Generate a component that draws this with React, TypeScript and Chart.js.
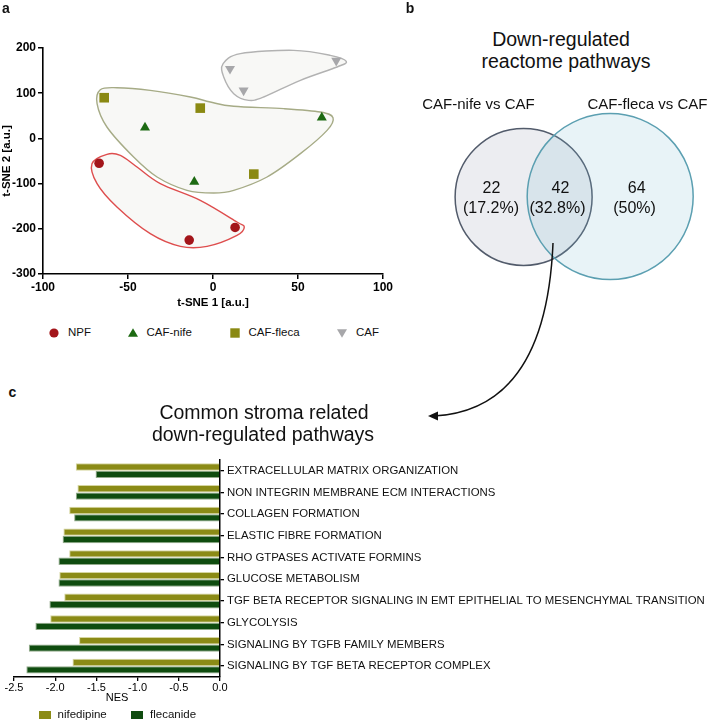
import React, { useEffect, useRef } from "react";
import { Chart, registerables } from "chart.js";
Chart.register(...registerables);

const FONT = '"Liberation Sans", Arial, Helvetica, sans-serif';
Chart.defaults.font.family = FONT;

// ---------- Panel a: t-SNE ----------
const npfX = [-67, -14, 13];
const npfY = [-55, -225, -197];
const nifeX = [-40, -11, 64];
const nifeY = [24, -96, 46];
const flecaX = [-64, -7.5, 24];
const flecaY = [90, 67, -79];
const cafX = [10, 18, 72.5];
const cafY = [154, 106, 172];

const hullCafX = [5.9, 16.1, 47.5, 69, 78.4, 73, 51.4, 29.8, 21, 12.2, 6.3];
const hullCafY = [165, 187.5, 194.8, 183.8, 170.5, 158, 128.5, 91.6, 84.2, 99, 135.8];
const hullTreatX = [-66.3, -56.5, -36.9, -13.3, -1.6, 12.2, 41.6, 63.1, 70.6, 67.1, 51.4, 31.8, 12.2, 0.4, -15.3, -32.9, -46.7, -62.4, -68.2];
const hullTreatY = [107.8, 112.2, 106.3, 91.6, 80.5, 71, 65.8, 58.4, 45.9, 17.8, -33.8, -85.4, -114.9, -120.8, -114.9, -85.4, -41.2, 25.2, 76.8];
const hullNpfX = [-62.4, -71.2, -68.2, -56.5, -36.9, -19.2, -3.5, 14.1, 18.4, 14.1, -7.5, -31, -44.7, -54.5];
const hullNpfY = [-35.2, -55.9, -100.1, -151.8, -210.8, -238.8, -238.8, -214.5, -196, -185, -137, -100.1, -63.3, -37.5];

const xTicksA = { min: -100, max: 100, step: 50 };
const yTicksA = { min: -300, max: 200, step: 100 };

// ---------- Panel b: Venn ----------
const vennSets = ["CAF-nife vs CAF", "CAF-fleca vs CAF"];
const vennX = [31.2, 63.5];
const vennY = [53.2, 53.4];
const vennR = [68.5, 83];
const vennCounts = ["22", "42", "64"];
const vennPercents = ["(17.2%)", "(32.8%)", "(50%)"];

// ---------- Panel c: NES bars ----------
const pathways = [
  "EXTRACELLULAR MATRIX ORGANIZATION",
  "NON INTEGRIN MEMBRANE ECM INTERACTIONS",
  "COLLAGEN FORMATION",
  "ELASTIC FIBRE FORMATION",
  "RHO GTPASES ACTIVATE FORMINS",
  "GLUCOSE METABOLISM",
  "TGF BETA RECEPTOR SIGNALING IN EMT EPITHELIAL TO MESENCHYMAL TRANSITION",
  "GLYCOLYSIS",
  "SIGNALING BY TGFB FAMILY MEMBERS",
  "SIGNALING BY TGF BETA RECEPTOR COMPLEX",
];
const nesNifedipine = [-1.75, -1.73, -1.83, -1.9, -1.83, -1.95, -1.89, -2.06, -1.71, -1.79];
const nesFlecanide = [-1.51, -1.75, -1.77, -1.91, -1.96, -1.96, -2.07, -2.24, -2.32, -2.35];
const xTicksC = { min: -2.5, max: 0, step: 0.5 };

const C_NPF = "#a3151a";
const C_NIFE = "#1d6a12";
const C_FLECA = "#8a8912";
const C_CAF = "#a7a7aa";
const C_BAR_NIFE = "#8b8b16";
const C_BAR_FLECA = "#0f4c0f";

const hulls = [
  { xs: hullTreatX, ys: hullTreatY, stroke: "#a6ab86" },
  { xs: hullNpfX, ys: hullNpfY, stroke: "#de4d4d" },
  { xs: hullCafX, ys: hullCafY, stroke: "#b2b2b2" },
];

const hullPlugin = {
  id: "hulls",
  beforeDatasetsDraw(chart: any) {
    const { ctx } = chart;
    const xs = chart.scales.x;
    const ys = chart.scales.y;
    hulls.forEach((h) => {
      const pts = h.xs.map((v, i) => [xs.getPixelForValue(v), ys.getPixelForValue(h.ys[i])]);
      const n = pts.length;
      ctx.save();
      ctx.beginPath();
      ctx.moveTo(pts[0][0], pts[0][1]);
      const t = 1 / 6;
      for (let i = 0; i < n; i++) {
        const p0 = pts[(i - 1 + n) % n];
        const p1 = pts[i];
        const p2 = pts[(i + 1) % n];
        const p3 = pts[(i + 2) % n];
        ctx.bezierCurveTo(
          p1[0] + (p2[0] - p0[0]) * t,
          p1[1] + (p2[1] - p0[1]) * t,
          p2[0] - (p3[0] - p1[0]) * t,
          p2[1] - (p3[1] - p1[1]) * t,
          p2[0],
          p2[1]
        );
      }
      ctx.closePath();
      ctx.fillStyle = "#f8f8f6";
      ctx.fill();
      ctx.strokeStyle = h.stroke;
      ctx.lineWidth = 1.4;
      ctx.stroke();
      ctx.restore();
    });
  },
};

function T(props: { x: number; y: number; text: string; size: number; weight?: string; anchor?: "start" | "middle" }) {
  const { x, y, text, size, weight, anchor } = props;
  return (
    <div
      style={{
        position: "absolute",
        left: x,
        top: y,
        transform: anchor === "start" ? "translate(0,-50%)" : "translate(-50%,-50%)",
        whiteSpace: "nowrap",
        fontSize: size,
        fontWeight: weight || "normal",
        lineHeight: 1,
        fontFamily: FONT,
        color: "#111",
      }}
    >
      {text}
    </div>
  );
}

export default function App() {
  const aRef = useRef<HTMLCanvasElement>(null);
  const bRef = useRef<HTMLCanvasElement>(null);
  const cRef = useRef<HTMLCanvasElement>(null);

  useEffect(() => {
    const pts = (xs: number[], ys: number[]) => xs.map((x, i) => ({ x, y: ys[i] }));
    const axisCommon = {
      grid: { drawOnChartArea: false, drawTicks: true, tickLength: 5, color: "#000", lineWidth: 1.5 },
      border: { display: true, color: "#000", width: 1.6 },
    };
    const chartA = new Chart(aRef.current!, {
      type: "scatter",
      data: {
        datasets: [
          { label: "NPF", data: pts(npfX, npfY), pointStyle: "circle", pointRadius: 4.8, backgroundColor: C_NPF, borderColor: C_NPF, borderWidth: 0 },
          { label: "CAF-nife", data: pts(nifeX, nifeY), pointStyle: "triangle", pointRadius: 5.8, backgroundColor: C_NIFE, borderColor: C_NIFE, borderWidth: 0 },
          { label: "CAF-fleca", data: pts(flecaX, flecaY), pointStyle: "rect", pointRadius: 6.8, backgroundColor: C_FLECA, borderColor: C_FLECA, borderWidth: 0 },
          { label: "CAF", data: pts(cafX, cafY), pointStyle: "triangle", pointRotation: 180, pointRadius: 5.8, backgroundColor: C_CAF, borderColor: C_CAF, borderWidth: 0 },
        ] as any,
      },
      options: {
        responsive: false,
        animation: false,
        events: [],
        layout: { autoPadding: false, padding: { left: 0, top: 48, right: 12, bottom: 0 } },
        plugins: { legend: { display: false }, tooltip: { enabled: false } },
        scales: {
          x: {
            type: "linear",
            min: xTicksA.min,
            max: xTicksA.max,
            ticks: { stepSize: xTicksA.step, font: { size: 12, weight: "bold" }, color: "#000", padding: 1 },
            title: { display: true, text: "t-SNE 1 [a.u.]", font: { size: 11.5, weight: "bold" }, color: "#000", padding: { top: 0, bottom: 10 } },
            afterFit: (s: any) => { s.height = 46; },
            ...axisCommon,
          },
          y: {
            type: "linear",
            min: yTicksA.min,
            max: yTicksA.max,
            ticks: { stepSize: yTicksA.step, font: { size: 12, weight: "bold" }, color: "#000", padding: 2 },
            title: { display: true, text: "t-SNE 2 [a.u.]", font: { size: 11.5, weight: "bold" }, color: "#000", padding: { top: 0, bottom: 0 } },
            afterFit: (s: any) => { s.width = 43; },
            ...axisCommon,
          },
        },
      } as any,
      plugins: [hullPlugin],
    });

    const vennFill = ["rgba(150,155,178,0.18)", "rgba(120,186,206,0.17)"];
    const vennStroke = ["#525b6b", "#5b9fb1"];
    const chartB = new Chart(bRef.current!, {
      type: "bubble",
      data: {
        datasets: vennSets.map((s, i) => ({
          label: s,
          data: [{ x: vennX[i], y: vennY[i], r: vennR[i] }],
          backgroundColor: vennFill[i],
          borderColor: vennStroke[i],
          borderWidth: 1.5,
          order: 2 - i,
          clip: false,
        })) as any,
      },
      options: {
        responsive: false,
        animation: false,
        events: [],
        layout: { autoPadding: false, padding: 0 },
        plugins: { legend: { display: false }, tooltip: { enabled: false } },
        scales: {
          x: { type: "linear", min: 0, max: 100, display: false },
          y: { type: "linear", min: 0, max: 100, display: false },
        },
      } as any,
    });

    const chartC = new Chart(cRef.current!, {
      type: "bar",
      data: {
        labels: pathways,
        datasets: [
          { label: "nifedipine", data: nesNifedipine, backgroundColor: C_BAR_NIFE, borderColor: "rgba(210,210,150,0.9)", borderWidth: 1 },
          { label: "flecanide", data: nesFlecanide, backgroundColor: C_BAR_FLECA, borderColor: "rgba(120,150,110,0.8)", borderWidth: 1 },
        ],
      },
      options: {
        indexAxis: "y",
        responsive: false,
        animation: false,
        events: [],
        layout: { padding: { top: 9, left: 14, right: 0, bottom: 0 } },
        plugins: { legend: { display: false }, tooltip: { enabled: false } },
        datasets: { bar: { categoryPercentage: 0.68, barPercentage: 1 } },
        scales: {
          x: {
            type: "linear",
            min: xTicksC.min,
            max: xTicksC.max,
            ticks: { stepSize: xTicksC.step, callback: (v: any) => Number(v).toFixed(1), font: { size: 11 }, color: "#000", padding: 0 },
            grid: { drawOnChartArea: false, drawTicks: true, tickLength: 4, color: "#000", lineWidth: 1.3 },
            border: { display: true, color: "#000", width: 1.5 },
            title: { display: true, text: "NES", font: { size: 11 }, color: "#000", padding: { top: 0, bottom: 16 } },
            afterFit: (s: any) => { s.height = 44; },
          },
          y: {
            position: "right",
            ticks: { autoSkip: false, font: { size: 11.4 }, color: "#111", padding: 3 },
            grid: { offset: false, drawOnChartArea: false, drawTicks: true, tickLength: 4, color: "#000", lineWidth: 1.3 },
            border: { display: true, color: "#000", width: 1.5 },
            afterFit: (s: any) => { s.width = 488; },
          },
        },
      } as any,
    });

    return () => {
      chartA.destroy();
      chartB.destroy();
      chartC.destroy();
    };
  }, []);

  const legendA = [
    { label: "NPF", mx: 54, tx: 68, shape: "circle", color: C_NPF },
    { label: "CAF-nife", mx: 132.5, tx: 146.5, shape: "tri", color: C_NIFE },
    { label: "CAF-fleca", mx: 235, tx: 248.5, shape: "square", color: C_FLECA },
    { label: "CAF", mx: 342, tx: 356, shape: "tridown", color: C_CAF },
  ];
  const legendC = [
    { label: "nifedipine", x: 38.5, tx: 57.5, color: C_BAR_NIFE },
    { label: "flecanide", x: 131, tx: 150, color: C_BAR_FLECA },
  ];

  return (
    <div style={{ position: "absolute", left: 0, top: 0, width: 708, height: 721, background: "#fff", overflow: "hidden", fontFamily: FONT }}>
      <canvas ref={aRef} width={395} height={320} style={{ position: "absolute", left: 0, top: 0, width: 395, height: 320 }} />
      <canvas ref={bRef} width={268} height={190} style={{ position: "absolute", left: 440, top: 108, width: 268, height: 190 }} />
      <canvas ref={cRef} width={708} height={271} style={{ position: "absolute", left: 0, top: 450, width: 708, height: 271 }} />

      <T x={6} y={8} text="a" size={14} weight="bold" />
      <T x={410} y={8} text="b" size={14} weight="bold" />
      <T x={12.5} y={392} text="c" size={14} weight="bold" />

      {legendA.map((l) => (
        <React.Fragment key={l.label}>
          <svg style={{ position: "absolute", left: l.mx - 6, top: 332.7 - 6 }} width={12} height={12}>
            {l.shape === "circle" && <circle cx={6} cy={6} r={4.6} fill={l.color} />}
            {l.shape === "tri" && <polygon points="6,1.2 11,9.8 1,9.8" fill={l.color} />}
            {l.shape === "square" && <rect x={1.3} y={1.3} width={9.4} height={9.4} fill={l.color} />}
            {l.shape === "tridown" && <polygon points="1,2.2 11,2.2 6,10.8" fill={l.color} />}
          </svg>
          <T x={l.tx} y={332.7} text={l.label} size={11.5} anchor="start" />
        </React.Fragment>
      ))}

      <T x={561} y={40} text="Down-regulated" size={19.5} />
      <T x={566} y={62} text="reactome pathways" size={19.5} />
      <T x={478.5} y={103.3} text={vennSets[0]} size={15} />
      <T x={647.5} y={103.3} text={vennSets[1]} size={15} />
      <T x={491.5} y={188.3} text={vennCounts[0]} size={16} />
      <T x={491} y={208.3} text={vennPercents[0]} size={16} />
      <T x={560.5} y={188.3} text={vennCounts[1]} size={16} />
      <T x={557.5} y={208.3} text={vennPercents[1]} size={16} />
      <T x={636.7} y={188.3} text={vennCounts[2]} size={16} />
      <T x={634.5} y={208.3} text={vennPercents[2]} size={16} />

      <svg style={{ position: "absolute", left: 0, top: 0 }} width={708} height={721}>
        <path d="M553,243 Q546,410 434,416" fill="none" stroke="#111" strokeWidth={1.5} />
        <polygon points="428,416 438,411.5 438,420.5" fill="#111" />
      </svg>

      <T x={264} y={413.3} text="Common stroma related" size={19.5} />
      <T x={263} y={435} text="down-regulated pathways" size={19.5} />

      {legendC.map((l) => (
        <React.Fragment key={l.label}>
          <div style={{ position: "absolute", left: l.x, top: 710.7, width: 12, height: 8.6, background: l.color }} />
          <T x={l.tx} y={715} text={l.label} size={11.5} anchor="start" />
        </React.Fragment>
      ))}
    </div>
  );
}
